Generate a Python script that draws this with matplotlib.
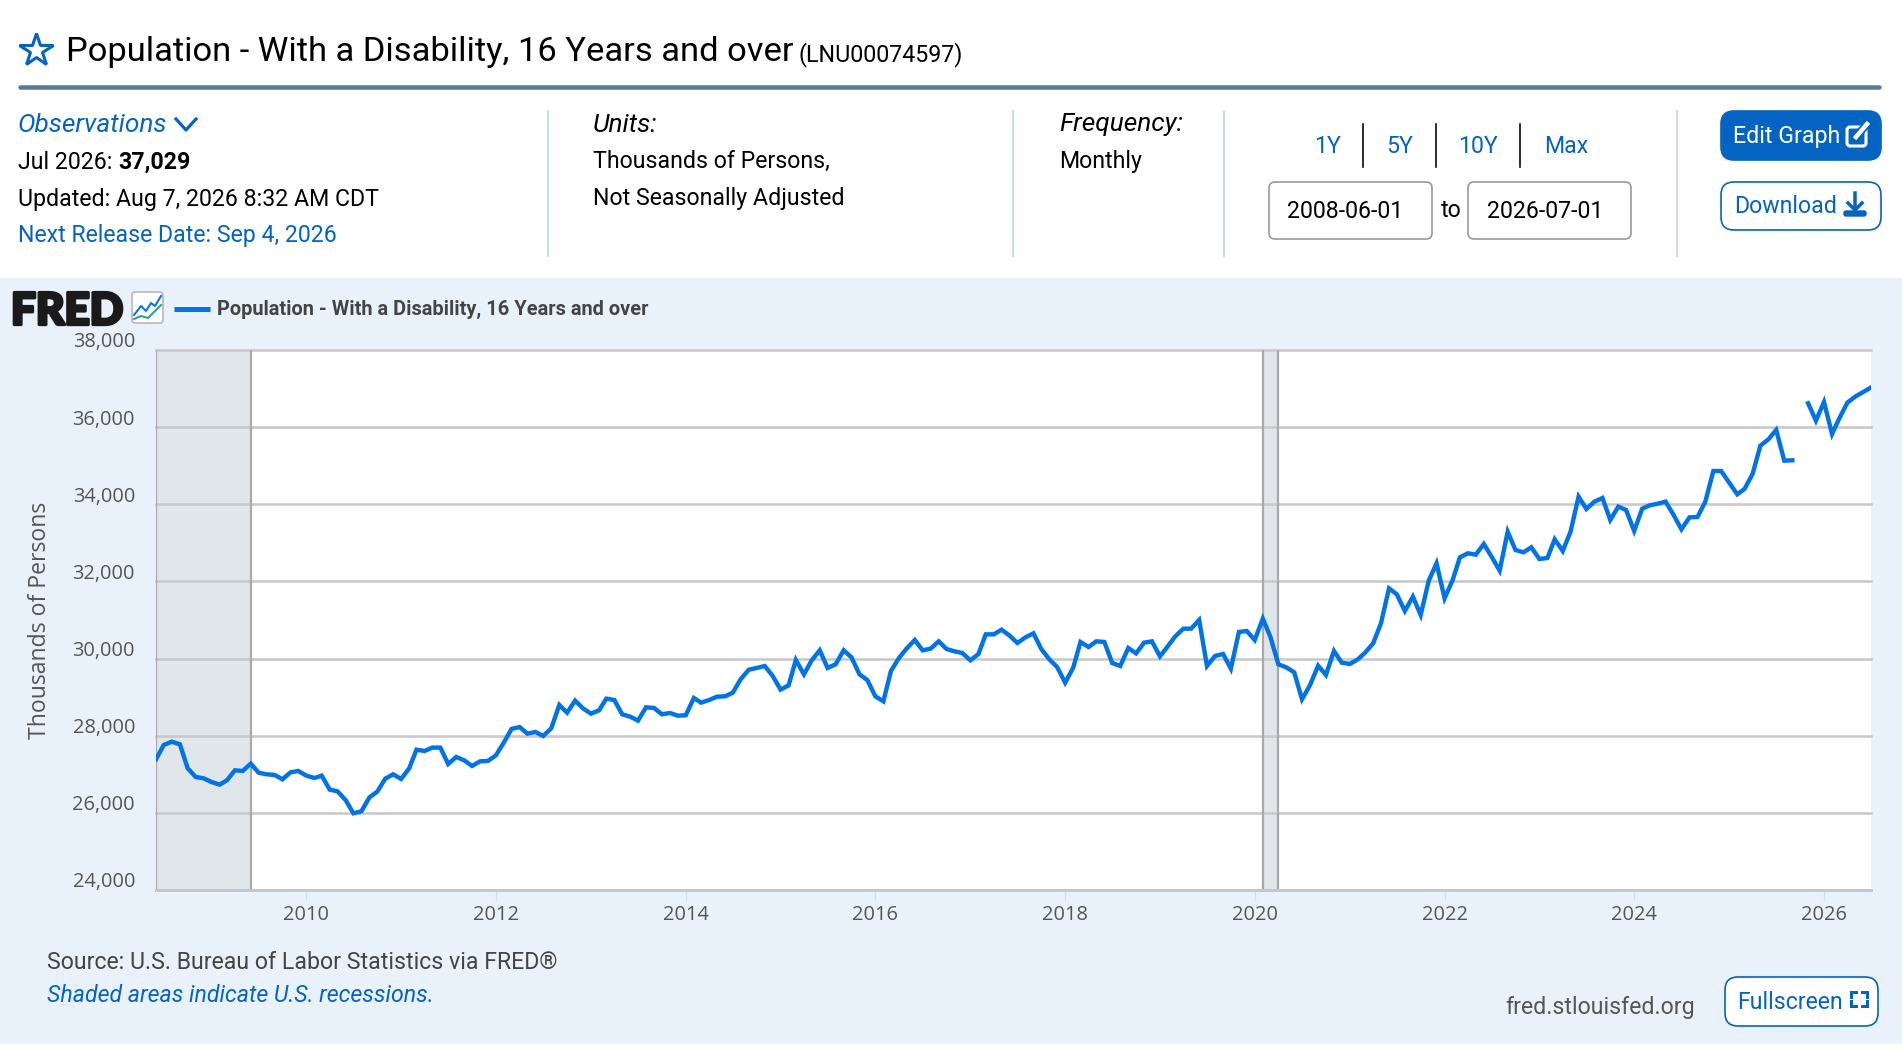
import numpy as np
import pandas as pd
import matplotlib
matplotlib.use('Agg')
import matplotlib.pyplot as plt
import matplotlib.dates as mdates
import matplotlib.patheffects as pe
from matplotlib.patches import FancyBboxPatch, Rectangle
from matplotlib.transforms import ScaledTranslation

W, H = 1902, 1061

dates = pd.date_range('2008-06-01', '2026-07-01', freq='MS')
population = [
    27388, 27760, 27846, 27777, 27155, 26930, 26896, 26800, 26731, 26844, 27103, 27086,
    27276, 27042, 26999, 26982, 26870, 27051, 27086, 26965, 26904, 26965, 26602, 26558,
    26334, 25988, 26040, 26403, 26550, 26887, 26999, 26878, 27155, 27639, 27604, 27691,
    27691, 27267, 27449, 27362, 27215, 27336, 27345, 27492, 27829, 28175, 28226, 28054,
    28097, 27993, 28192, 28797, 28598, 28909, 28710, 28572, 28658, 28961, 28926, 28555,
    28494, 28391, 28736, 28719, 28555, 28589, 28520, 28529, 28978, 28857, 28926, 29012,
    29021, 29116, 29470, 29712, 29756, 29807, 29557, 29194, 29306, 29963, 29591, 29954,
    30214, 29756, 29851, 30214, 30032, 29591, 29444, 29021, 28891, 29678, 30015, 30265,
    30481, 30214, 30257, 30447, 30248, 30188, 30144, 29954, 30118, 30628, 30628, 30749,
    30594, 30404, 30551, 30654, 30248, 29980, 29781, 29375, 29764, 30430, 30300, 30447,
    30430, 29885, 29807, 30274, 30136, 30412, 30447, 30058, 30326, 30577, 30775, 30775,
    31000, 29807, 30067, 30118, 29738, 30689, 30715, 30481, 31035, 30568, 29851, 29773,
    29644, 28944, 29315, 29816, 29575, 30197, 29894, 29860, 29981, 30154, 30395, 30914,
    31821, 31666, 31234, 31605, 31130, 32020, 32470, 31562, 32037, 32625, 32729, 32694,
    32971, 32642, 32279, 33290, 32815, 32755, 32884, 32582, 32608, 33092, 32789, 33290,
    34198, 33878, 34068, 34163, 33593, 33939, 33852, 33308, 33887, 33973, 34016, 34068,
    33722, 33351, 33662, 33671, 34068, 34863, 34863, 34561, 34258, 34397, 34785, 35520,
    35684, 35926, 35131, 35140, np.nan, 36618, 36168, 36652, 35822, 36229, 36635, 36790,
    36911, 37029,
]
recessions = [('2008-06-01', '2009-06-01'), ('2020-02-01', '2020-04-01')]
y_ticks = [24000, 26000, 28000, 30000, 32000, 34000, 36000, 38000]
x_tick_years = [2010, 2012, 2014, 2016, 2018, 2020, 2022, 2024, 2026]

series_name = 'Population - With a Disability, 16 Years and over'

BLUE = '#0563c1'
LINE = '#0073e6'
BAND = '#e9f2fa'
plt.rcParams['font.family'] = ['Roboto', 'DejaVu Sans']


def pt(size):
    return size * 72 / 100


fig = plt.figure(figsize=(W / 100, H / 100), dpi=100, facecolor='white')

# page furniture is drawn in pixel coordinates on a full-figure axes
page = fig.add_axes([0, 0, 1, 1], zorder=1)
page.set_xlim(0, W)
page.set_ylim(H, 0)
page.axis('off')


def label(x, y, s, size=23.1, color='black', ha='left', **kw):
    return page.text(x, y, s, fontsize=pt(size), color=color, ha=ha, va='center_baseline', **kw)


def box(x0, y0, x1, y1, face, edge, radius=8, lw=1.2):
    page.add_patch(FancyBboxPatch((x0 + radius, y0 + radius), x1 - x0 - 2 * radius, y1 - y0 - 2 * radius,
                                  boxstyle=f'round,pad={radius}', fc=face, ec=edge, lw=lw))


page.add_patch(Rectangle((0, 278), W, 766, fc=BAND, ec='none'))

# header
page.plot([36], [50], marker='*', ms=25, mfc='none', mec=BLUE, mew=2.2)
label(66, 48, series_name, size=34.5)
label(798, 52, '(LNU00074597)', size=23.2)
page.plot([20, 1879], [87, 87], color='#567a97', lw=pt(4.5), solid_capstyle='round')

for x in [548, 1013, 1224, 1677]:
    page.plot([x, x], [111, 256], color='#c9dde6', lw=pt(2))

label(18, 123, 'Observations', size=26.3, color=BLUE, style='italic')
page.plot([176, 186, 196], [119, 130, 119], color=BLUE, lw=pt(3.2))
label(18, 160, 'Jul 2026: ', color='black')
label(118, 160, '37,029', weight='bold')
label(18, 197, 'Updated: Aug 7, 2026 8:32 AM CDT')
label(18, 233, 'Next Release Date: Sep 4, 2026', color=BLUE)

label(593, 122, 'Units:', size=26.2, style='italic')
label(593, 159, 'Thousands of Persons,')
label(593, 196, 'Not Seasonally Adjusted')

label(1059, 122, 'Frequency:', size=26.2, style='italic')
label(1059, 159, 'Monthly')

# range selector
for x, s in zip([1328, 1400, 1478, 1566], ['1Y', '5Y', '10Y', 'Max']):
    label(x, 144, s, color=BLUE, ha='center')
for x in [1363, 1436, 1520]:
    page.plot([x, x], [124, 167], color='black', lw=pt(1.6))
box(1269, 182, 1432, 239, 'white', '#999999', radius=6)
box(1468, 182, 1631, 239, 'white', '#999999', radius=6)
label(1287, 209, '2008-06-01')
label(1487, 209, '2026-07-01')
label(1451, 208, 'to', ha='center')

# buttons
box(1721, 111, 1881, 160, BLUE, BLUE, radius=13)
label(1733, 134, 'Edit Graph', color='white')
box(1847, 127, 1866, 146, 'none', 'white', radius=3, lw=2.2)
page.plot([1856, 1867], [137, 124], color=BLUE, lw=pt(8))
page.plot([1856, 1867], [137, 124], color='white', lw=pt(4.5))

box(1721, 182, 1881, 230, 'white', BLUE, radius=13)
label(1734, 204, 'Download', color=BLUE)
page.plot([1855, 1855], [193, 208], color=BLUE, lw=pt(3.5))
page.plot([1848, 1855, 1862], [203, 210, 203], color=BLUE, lw=pt(3.5))
box(1844, 211, 1866, 216, BLUE, BLUE, radius=2, lw=1)

# legend row
fred = label(11, 308, 'FRED', size=44, color='#1a1a1a', weight='black', family='Lato')
fred.set_path_effects([pe.withStroke(linewidth=2.4, foreground='#1a1a1a')])
box(132, 292, 163, 323, 'white', '#b8b8b8', radius=3, lw=1.2)
page.plot([134, 141, 146, 151, 155, 161], [315, 306, 311, 303, 306, 296], color=LINE, lw=pt(2))
page.plot([134, 141, 148, 153, 161], [319, 316, 318, 313, 305], color='#28a08c', lw=pt(2))
page.plot([174, 210], [309, 309], color=LINE, lw=pt(5), solid_capstyle='butt')
label(217, 307, series_name, size=20, color='#444444', weight='bold')

# footer
label(47, 960, 'Source: U.S. Bureau of Labor Statistics via FRED®', color='#444444')
label(47, 993, 'Shaded areas indicate U.S. recessions.', color=BLUE, style='italic')
label(1505, 1005, 'fred.stlouisfed.org', color='#555555')
box(1725, 977, 1878, 1026, 'white', BLUE, radius=13)
label(1737, 1000, 'Fullscreen', color=BLUE)
for cx, cy, dx, dy in [(1851, 992, 1, 1), (1867, 992, -1, 1), (1851, 1006, 1, -1), (1867, 1006, -1, -1)]:
    page.plot([cx, cx, cx + 5 * dx], [cy + 5 * dy, cy, cy], color=BLUE, lw=pt(3), solid_joinstyle='miter')

# chart
left, right, top, bottom = 156, 1871, 350, 890
ax = fig.add_axes([left / W, 1 - bottom / H, (right - left) / W, (bottom - top) / H], zorder=2)
ax.set_facecolor('white')
ax.set_ylim(24000, 38000)
ax.set_xlim(dates[0], dates[-1])

for start, end in recessions:
    ax.axvspan(pd.Timestamp(start), pd.Timestamp(end), fc='#e1e6ea', ec='none', zorder=1)
    ax.axvline(pd.Timestamp(start), color='#a9a9a9', lw=pt(2.2), zorder=1.6)
    ax.axvline(pd.Timestamp(end), color='#a9a9a9', lw=pt(2.2), zorder=1.6)

ax.set_yticks(y_ticks)
ax.set_yticklabels([f'{v:,}' for v in y_ticks])
ax.set_xticks([pd.Timestamp(f'{y}-01-01') for y in x_tick_years])
ax.xaxis.set_major_formatter(mdates.DateFormatter('%Y'))
ax.grid(axis='y', color='#c9c9c9', lw=pt(2.6))
ax.set_axisbelow('line')
for gridline in ax.get_ygridlines():
    gridline.set_clip_on(False)
ax.plot(dates, population, color=LINE, lw=pt(4.4), solid_joinstyle='miter', zorder=3)

for side in ['top', 'right', 'left']:
    ax.spines[side].set_visible(False)
ax.spines['bottom'].set_color('#c0c8d6')
ax.spines['bottom'].set_linewidth(pt(3))

ax.tick_params(axis='y', length=0, pad=pt(21), labelsize=pt(20), labelcolor='#555555')
ax.tick_params(axis='x', length=pt(10), width=pt(1.2), color='#cfdcea', pad=pt(5),
               labelsize=pt(20), labelcolor='#555555')
lift = ScaledTranslation(0, 10 / 100, fig.dpi_scale_trans)
for lab in ax.get_yticklabels():
    lab.set_fontfamily('Open Sans')
    lab.set_transform(lab.get_transform() + lift)
for lab in ax.get_xticklabels():
    lab.set_fontfamily('Open Sans')

page.text(40, 620, 'Thousands of Persons', rotation=90, ha='center', va='center', fontsize=pt(23),
          color='#555555', family='Open Sans')

fig.savefig('out.png', dpi=100)
